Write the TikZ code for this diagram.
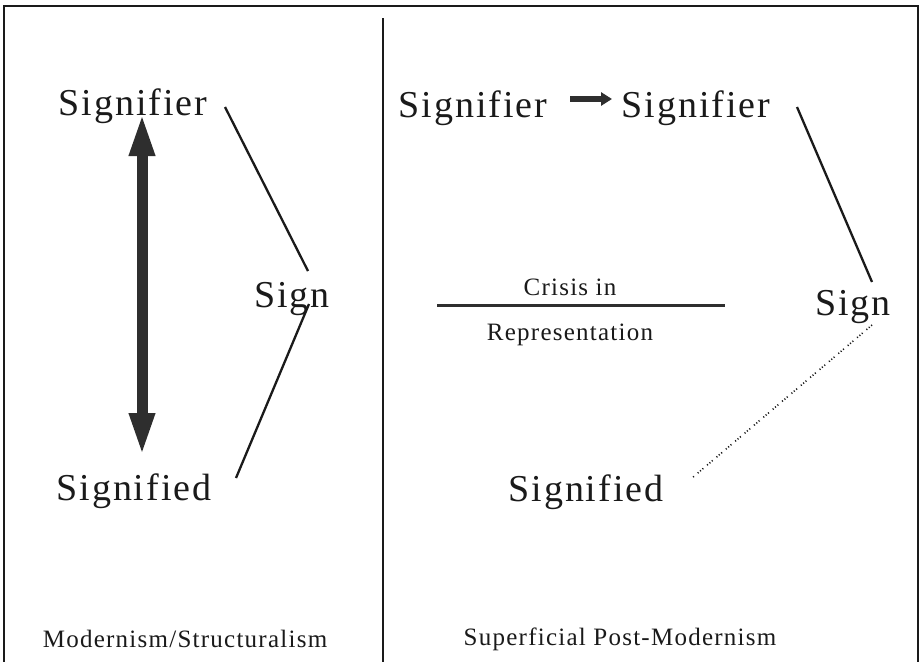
\documentclass[tikz,border=0pt]{standalone}
\usepackage{fontspec}
\setmainfont[LetterSpace=5]{Liberation Serif}
\usetikzlibrary{arrows.meta}
\definecolor{ink}{HTML}{1A1A1A}
\definecolor{arrowgray}{HTML}{2E2E2E}
\tikzset{
  big/.style={font=\fontsize{38}{40}\selectfont, anchor=base, inner sep=0pt, text=ink},
  small/.style={font=\fontsize{25}{28}\selectfont, anchor=base, inner sep=0pt, text=ink},
  thinline/.style={draw=ink, line width=2.3pt},
  frameline/.style={draw=ink, line width=1.6pt},
  dotline/.style={draw=ink, line width=1.6pt, dash pattern=on 1.1pt off 2pt on 1.1pt off 2pt on 1.1pt off 5pt},
}
\begin{document}
\begin{tikzpicture}[x=1pt,y=-1pt]
\useasboundingbox (0,0) rectangle (922,662);
\fill[white] (0,0) rectangle (922,662);
% frame
\draw[frameline] (4,662) -- (4,6) -- (918,6) -- (918,662);
\draw[draw=ink, line width=2.5pt] (383,18) -- (383,662);

% left panel
\node[big] (Lsfr) at (133,115) {Signifier};
\node[big] (Lsign) at (292,307) {Sign};
\node[big] (Lsfd) at (134,500) {Signified};
\node[small] (Llab) at (185,647) {Modernism/Structuralism};

\coordinate (aT) at (142,112);
\coordinate (aB) at (142,457);
\draw[draw=arrowgray, line width=11pt, {Triangle[length=44pt,width=23pt]}-{Triangle[length=44pt,width=23pt]}] (aT) -- (aB);

\coordinate (l1a) at (225,107);
\coordinate (l1b) at (308,271);
\coordinate (l2a) at (309,304);
\coordinate (l2b) at (236,478);
\draw[thinline] (l1a) -- (l1b);
\draw[thinline] (l2a) -- (l2b);

% right panel
\node[big] (Rsfr1) at (473,117) {Signifier};
\node[big] (Rsfr2) at (696,117) {Signifier};
\node[big] (Rsign) at (853,315) {Sign};
\node[big] (Rsfd) at (586,501) {Signified};
\node[small] (crisis) at (570,295) {Crisis in};
\node[small] (repr) at (570,340) {Representation};
\node[small] (Rlab) at (620,645) {Superficial Post-Modernism};

\coordinate (sa) at (570,99);
\coordinate (sb) at (612,99);
\draw[draw=arrowgray, line width=6pt, -{Triangle[length=11pt,width=13pt]}] (sa) -- (sb);

\coordinate (r1a) at (797,107);
\coordinate (r1b) at (872,282);
\draw[thinline] (r1a) -- (r1b);
\coordinate (d1) at (872,325);
\coordinate (d2) at (692,478);
\draw[dotline] (d1) -- (d2);

\coordinate (c1) at (437,305);
\coordinate (c2) at (725,305);
\draw[draw=arrowgray, line width=3pt] (c1) -- (c2);
\end{tikzpicture}
\end{document}
